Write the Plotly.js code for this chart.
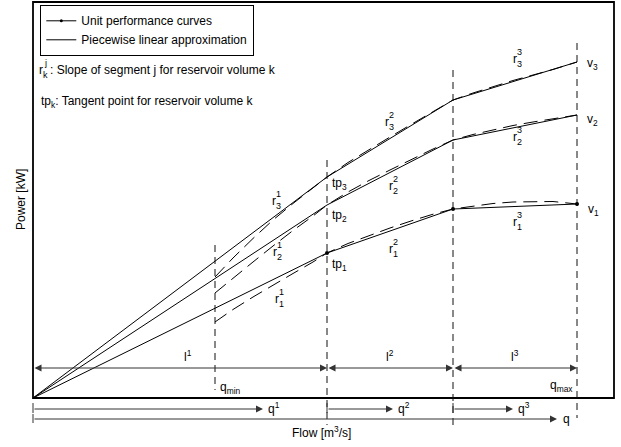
<!DOCTYPE html>
<html>
<head>
<meta charset="utf-8">
<script src="https://cdn.plot.ly/plotly-3.0.1.min.js"></script>
<style>html,body{margin:0;padding:0;background:#fff;}#chart{width:621px;height:447px;}</style>
</head>
<body>
<div id="chart"></div>
<script>
// ---- Data (schematic units: flow on x, power on y) ----
const segBounds = [0, 182, 294, 420, 544];       // 0, q_min, tp, breakpoint, q_max
const linX = [0, 294, 420, 544];
const linK1 = [0, 145, 189, 194];
const linK2 = [0, 193, 258, 283];
const linK3 = [0, 221, 298, 336];

const curveX  = [182, 200, 220, 240, 260, 280, 294, 315, 336, 357, 378, 399, 420, 440, 460, 480, 500, 520, 544];
const curveK1 = [76, 88.5, 101, 113, 124.5, 136, 145, 154.5, 162.5, 170, 177, 183.5, 189, 192, 194.5, 196, 196.5, 196.5, 194];
const curveK2 = [105, 120, 136, 152, 167.5, 182, 193, 206, 217.5, 228, 238.5, 248.5, 258, 263.5, 268, 272.5, 276, 279.5, 283];
const curveK3 = [121, 140, 159.5, 178, 194.5, 210, 221, 235.5, 248.5, 261, 273.5, 286, 298, 305, 311.5, 317.5, 323, 328.5, 336];

const vLineX = [182, 294, 420, 544];
const vLineTop = [153, 238, 328, 355];
const vLineBottom = [8, -27, -27, -20];

const lLabels = ['l<sup>1</sup>', 'l<sup>2</sup>', 'l<sup>3</sup>'];
const qLabels = ['q<sup>1</sup>', 'q<sup>2</sup>', 'q<sup>3</sup>'];
const qArrowTip = [230, 360, 480];
const qTotalTip = 524;

const FONT = 'Liberation Sans, Arial, sans-serif';
const traces = [];

// vertical dashed lines
vLineX.forEach((x, i) => {
  traces.push({x: [x, x], y: [vLineTop[i], vLineBottom[i]], mode: 'lines', showlegend: false, hoverinfo: 'skip',
    line: {color: '#111', width: 1, dash: '7px,5px'}});
});

// unit performance curves (dashed)
[curveK1, curveK2, curveK3].forEach(c => {
  traces.push({x: curveX, y: c, mode: 'lines', showlegend: false, hoverinfo: 'skip',
    line: {color: '#000', width: 1, dash: '14px,7px'}});
});
// piecewise linear approximations
[linK1, linK2, linK3].forEach(c => {
  traces.push({x: linX, y: c, mode: 'lines', showlegend: false, hoverinfo: 'skip',
    line: {color: '#000', width: 1}});
});
// points on curve 1
traces.push({x: linX.slice(1), y: linK1.slice(1), mode: 'markers', showlegend: false, hoverinfo: 'skip',
  marker: {color: '#000', size: 4}});

// tail ticks of q arrows
[0, 2, 3].forEach(i => {
  traces.push({x: [segBounds[i], segBounds[i]], y: [-5, -15], mode: 'lines', showlegend: false, hoverinfo: 'skip',
    line: {color: '#333', width: 1}});
});
traces.push({x: [0, 0], y: [-16, -25], mode: 'lines', showlegend: false, hoverinfo: 'skip', line: {color: '#333', width: 1}});

// legend entries
traces.push({x: [null], y: [null], mode: 'lines+markers', name: 'Unit performance curves',
  line: {color: '#000', width: 1}, marker: {color: '#000', size: 3}});
traces.push({x: [null], y: [null], mode: 'lines', name: 'Piecewise linear approximation',
  line: {color: '#000', width: 1}});

const ann = [];
function txt(x, y, text, opts) {
  ann.push(Object.assign({x: x, y: y, xref: 'x', yref: 'y', text: text, showarrow: false,
    font: {family: FONT, size: 12, color: '#000'}, xanchor: 'center', yanchor: 'middle'}, opts || {}));
}
function stacked(x, y, base, sup, sub) {
  txt(x, y, base);
  txt(x, y, sup, {xshift: 4.5, yshift: 7, font: {family: FONT, size: 9, color: '#000'}});
  txt(x, y, sub, {xshift: 4.5, yshift: -5, font: {family: FONT, size: 9, color: '#000'}});
}
function arrow(x, y, ax, both) {
  ann.push({x: x, y: y, ax: ax, ay: y, xref: 'x', yref: 'y', axref: 'x', ayref: 'y', text: '',
    showarrow: true, arrowhead: 2, arrowsize: 1.4, arrowwidth: 1, arrowcolor: '#333',
    arrowside: both ? 'end+start' : 'end', standoff: 0, startstandoff: 0});
}
// px helpers for label placement (x = px - 33, y = 398 - py)
const X = px => px - 33, Y = py => 398 - py;

// explanatory text
stacked(X(41), Y(70), 'r', 'j', 'k');
txt(X(48), Y(70), ': Slope of segment j for reservoir volume k', {xanchor: 'left'});
txt(X(39), Y(102), 'tp<sub>k</sub>: Tangent point for reservoir volume k', {xanchor: 'left'});

// slope labels
stacked(X(274), Y(201), 'r', '1', '3');
stacked(X(275), Y(252), 'r', '1', '2');
stacked(X(277), Y(299), 'r', '1', '1');
stacked(X(387), Y(122), 'r', '2', '3');
stacked(X(391), Y(186), 'r', '2', '2');
stacked(X(391), Y(249), 'r', '2', '1');
stacked(X(515), Y(59), 'r', '3', '3');
stacked(X(515), Y(137), 'r', '3', '2');
stacked(X(515), Y(222), 'r', '3', '1');

// tangent points and ends
txt(X(330), Y(184), 'tp<sub>3</sub>', {xanchor: 'left'});
txt(X(330), Y(216), 'tp<sub>2</sub>', {xanchor: 'left'});
txt(X(330), Y(265), 'tp<sub>1</sub>', {xanchor: 'left'});
txt(X(585), Y(64), 'v<sub>3</sub>', {xanchor: 'left'});
txt(X(585), Y(120), 'v<sub>2</sub>', {xanchor: 'left'});
txt(X(586), Y(210), 'v<sub>1</sub>', {xanchor: 'left'});

// l arrows
for (let i = 0; i < 3; i++) {
  const a = i === 0 ? 0 : segBounds[i + 1];
  const b = segBounds[i + 2];
  arrow(b, Y(368), a, true);
  txt((a + b) / 2 + (i === 0 ? 8 : 0), Y(356), lLabels[i]);
}
txt(X(218), Y(388), 'q<sub>min</sub>', {xanchor: 'left'});
txt(X(575), Y(386), 'q<sub>max</sub>', {xanchor: 'right'});

// q arrows
[0, 2, 3].forEach((bi, j) => {
  arrow(qArrowTip[j], Y(409), segBounds[bi], false);
  txt(qArrowTip[j] + 3, Y(408), qLabels[j], {xanchor: 'left'});
});
arrow(qTotalTip, Y(419), 0, false);
txt(qTotalTip + 4, Y(419), 'q', {xanchor: 'left'});

// axis titles
txt(X(321), Y(432), 'Flow [m<sup>3</sup>/s]');
txt(X(21), Y(200), 'Power [kW]', {textangle: -90});

const layout = {
  width: 621, height: 447,
  margin: {l: 0, r: 0, t: 0, b: 0},
  paper_bgcolor: '#fff', plot_bgcolor: '#fff',
  xaxis: {range: [-33, 588], visible: false, fixedrange: true},
  yaxis: {range: [-49, 398], visible: false, fixedrange: true},
  showlegend: true,
  legend: {x: 40 / 621, y: 1 - 5 / 447, xanchor: 'left', yanchor: 'top', bgcolor: '#fff',
    bordercolor: '#000', borderwidth: 1.3, font: {family: FONT, size: 12, color: '#000'},
    tracegroupgap: 0},
  shapes: [
    {type: 'rect', xref: 'x', yref: 'y', x0: 0, y0: 0, x1: 581, y1: 396, line: {color: '#000', width: 1.8}, layer: 'below'}
  ],
  annotations: ann
};

Plotly.newPlot('chart', traces, layout, {staticPlot: true, displayModeBar: false});
</script>
</body>
</html>
